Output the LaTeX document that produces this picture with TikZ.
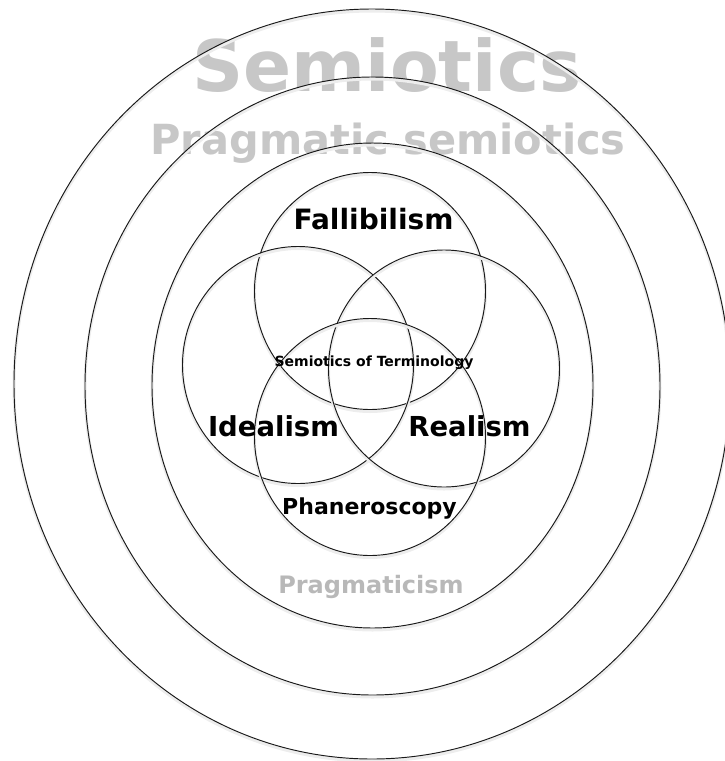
\documentclass[tikz,border=0pt]{standalone}
\usepackage{fontspec}
\setmainfont{DejaVu Sans}

\begin{document}
\begin{tikzpicture}[x=1pt, y=-1pt,
  ring/.style={draw=black!90, line width=0.95pt},
  halo/.style={draw=black!7, line width=3pt, yshift=-2pt},
  greylabel/.style={text=black!22, anchor=base, inner sep=0pt},
  venlabel/.style={text=black, anchor=base, inner sep=0pt},
]

\useasboundingbox (0,0) rectangle (724,761);

% --- Outer labels (light grey, behind the rings) ---
\node[greylabel, font=\bfseries\fontsize{71}{80}\selectfont] (semio) at (387,91) {Semiotics};
\node[greylabel, font=\bfseries\fontsize{41.5}{46}\selectfont] (pragsem) at (388,154) {Pragmatic semiotics};
\node[greylabel, text=black!28, font=\bfseries\fontsize{24}{28}\selectfont] (pragism) at (371,593) {Pragmaticism};

% --- Concentric rings ---
\foreach \cx/\cy/\rx/\ry in {372/384/358/375, 372.5/386/287.5/309, 372.5/385.5/220.5/242.5}{
  \draw[halo] (\cx,\cy) ellipse [x radius=\rx, y radius=\ry];
  \draw[ring] (\cx,\cy) ellipse [x radius=\rx, y radius=\ry];
}

% --- Venn circles: top, left, right, bottom ---
\foreach \cx/\cy in {370/291, 298/365, 444/368.5, 370/437}{
  \draw[halo] (\cx,\cy) ellipse [x radius=115.5, y radius=118.5];
  \draw[ring] (\cx,\cy) ellipse [x radius=115.5, y radius=118.5];
}

% --- Venn labels ---
\node[venlabel, font=\bfseries\fontsize{28}{32}\selectfont] (fall) at (373.5,229) {Fallibilism};
\node[venlabel, font=\bfseries\fontsize{27.5}{32}\selectfont] (ideal) at (273.5,436) {Idealism};
\node[venlabel, font=\bfseries\fontsize{27.5}{32}\selectfont] (real) at (469.5,436) {Realism};
\node[venlabel, font=\bfseries\fontsize{22}{26}\selectfont] (phan) at (369.5,514) {Phaneroscopy};
\node[venlabel, font=\bfseries\fontsize{14}{17}\selectfont] (term) at (374,366) {Semiotics of Terminology};

\end{tikzpicture}
\end{document}
